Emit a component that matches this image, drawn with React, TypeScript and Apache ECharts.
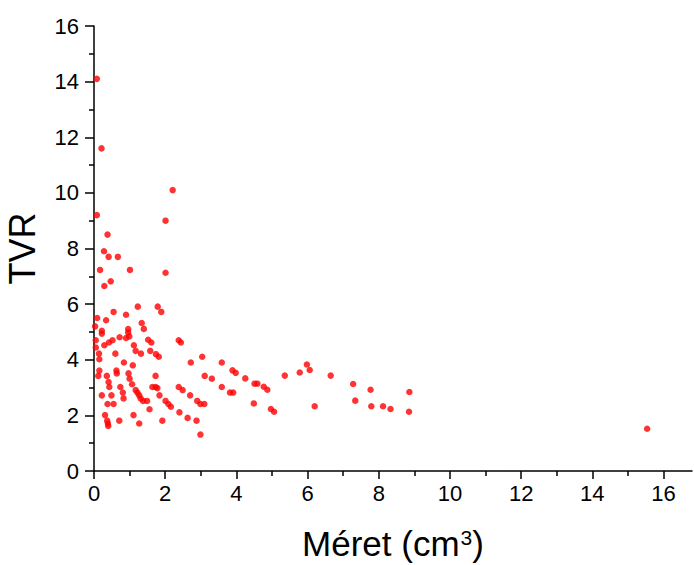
import React, { useEffect, useRef } from "react";
import * as echarts from "echarts";

// Méret (cm³) values
const sizeValues: number[] = [
  0.08, 0.21, 2.21, 0.08, 2.01, 0.38, 0.28, 0.41, 0.67, 0.17, 1.01, 2.01, 0.47, 0.29,
  1.23, 1.79, 1.89, 0.55, 0.9, 0.09, 0.34, 1.34, 0.03, 0.22, 0.96, 1.4, 0.22, 0.96, 0.99, 0.9,
  0.72, 0.05, 1.52, 2.38, 0.52, 0.42, 1.61, 2.44, 0.29, 1.12, 0.05, 1.17, 1.32, 1.58, 1.74,
  1.82, 0.14, 0.6, 0.15, 0.84, 2.72, 3.59, 3.04, 1.09, 0.63, 0.64, 0.15, 0.12, 0.36, 0.97,
  1.73, 3.11, 3.31, 3.89, 3.98, 0.41, 1.0, 1.07, 0.43, 0.74, 1.64, 1.73, 1.78, 2.38, 2.49,
  3.59, 1.17, 1.22, 0.81, 3.82, 3.91, 0.22, 0.49, 1.27, 1.84, 2.7, 0.83, 1.31, 1.38, 1.49,
  2.01, 2.09, 2.16, 2.9, 2.99, 3.1, 0.38, 0.55, 1.56, 2.4, 0.31, 1.11, 2.63, 0.37, 0.71,
  1.92, 2.88, 0.39, 0.4, 1.27, 2.99,
  4.25, 4.51, 4.59, 4.77, 4.87, 4.49, 4.97, 5.06, 5.36, 5.78, 5.98, 6.06, 6.2, 6.65, 7.28,
  7.34, 7.77, 7.79, 8.12, 8.33, 8.86, 8.85, 15.54,
];

// TVR values
const tvrValues: number[] = [
  14.1, 11.6, 10.1, 9.2, 9.0, 8.5, 7.9, 7.7, 7.7, 7.23, 7.23, 7.13, 6.82, 6.65,
  5.91, 5.91, 5.72, 5.72, 5.62, 5.5, 5.42, 5.32, 5.2, 5.04, 5.1, 5.11, 4.94, 4.98, 4.84, 4.78,
  4.81, 4.7, 4.72, 4.7, 4.7, 4.62, 4.62, 4.62, 4.52, 4.52, 4.44, 4.32, 4.22, 4.32, 4.2,
  4.11, 4.22, 4.22, 4.02, 3.9, 3.9, 3.9, 4.11, 3.8, 3.61, 3.51, 3.61, 3.42, 3.42, 3.51,
  3.42, 3.42, 3.32, 3.62, 3.53, 3.2, 3.32, 3.12, 3.02, 3.02, 3.02, 3.02, 2.98, 3.02, 2.91,
  3.02, 2.91, 2.82, 2.82, 2.82, 2.82, 2.72, 2.72, 2.72, 2.72, 2.72, 2.61, 2.61, 2.52, 2.52,
  2.52, 2.41, 2.31, 2.52, 2.41, 2.41, 2.41, 2.41, 2.22, 2.11, 2.01, 2.01, 1.91, 1.81, 1.81,
  1.81, 1.81, 1.71, 1.62, 1.71, 1.31,
  3.33, 3.14, 3.14, 3.03, 2.92, 2.43, 2.23, 2.13, 3.43, 3.54, 3.83, 3.63, 2.33, 3.43, 3.13,
  2.53, 2.92, 2.33, 2.33, 2.23, 2.84, 2.13, 1.52,
];

const xMajorTicks = [0, 2, 4, 6, 8, 10, 12, 14, 16];
const xMinorTicks = [1, 3, 5, 7, 9, 11, 13, 15];

const FONT = "'Liberation Sans', Arial, sans-serif";

export default function App() {
  const ref = useRef<HTMLDivElement>(null);
  useEffect(() => {
    if (!ref.current) return;
    const chart = echarts.init(ref.current, null, { renderer: "svg" });
    const data = sizeValues.map((x, i) => [x, tvrValues[i]]);
    const lineStyle = { color: "#000", width: 1.5 };
    chart.setOption({
      animation: false,
      backgroundColor: "#fff",
      grid: {
        left: 94,
        right: 2,
        top: 26,
        bottom: 94,
        containLabel: false,
        outerBoundsMode: "none",
      },
      xAxis: [
        {
          type: "value",
          min: 0,
          max: 16.8,
          name: "Méret (cm{sup|3})",
          nameLocation: "middle",
          nameGap: 57,
          nameTextStyle: {
            fontFamily: FONT,
            fontSize: 35,
            lineHeight: 31,
            color: "#000",
            rich: {
              sup: {
                fontFamily: FONT,
                fontSize: 21,
                lineHeight: 18,
                color: "#000",
                padding: [0, 0, 13, 1],
              },
            },
          },
          axisLine: { show: true, onZero: false, lineStyle },
          axisTick: { show: true, length: 8, lineStyle, customValues: xMajorTicks },
          axisLabel: {
            show: true,
            customValues: xMajorTicks,
            fontFamily: FONT,
            fontSize: 22,
            color: "#000",
            margin: 11,
          },
          splitLine: { show: false },
        },
        {
          type: "value",
          min: 0,
          max: 16.8,
          position: "bottom",
          axisLine: { show: false },
          axisTick: { show: true, length: 5, lineStyle, customValues: xMinorTicks },
          axisLabel: { show: false },
          splitLine: { show: false },
        },
      ],
      yAxis: {
        type: "value",
        min: 0,
        max: 16,
        interval: 2,
        name: "TVR",
        nameLocation: "middle",
        nameGap: 56,
        nameTextStyle: { fontFamily: FONT, fontSize: 36, lineHeight: 32, color: "#000" },
        axisLine: { show: true, onZero: false, lineStyle },
        axisTick: { show: true, length: 9, lineStyle },
        minorTick: { show: true, splitNumber: 2, length: 5, lineStyle },
        axisLabel: { fontFamily: FONT, fontSize: 22, color: "#000", margin: 15 },
        splitLine: { show: false },
      },
      series: [
        {
          type: "scatter",
          xAxisIndex: 0,
          data,
          symbol: "circle",
          symbolSize: 6.5,
          itemStyle: { color: "#ff0000" },
        },
      ],
    });
    return () => chart.dispose();
  }, []);
  return (
    <div
      ref={ref}
      style={{ position: "absolute", left: 0, top: 0, width: 694, height: 565 }}
    />
  );
}
